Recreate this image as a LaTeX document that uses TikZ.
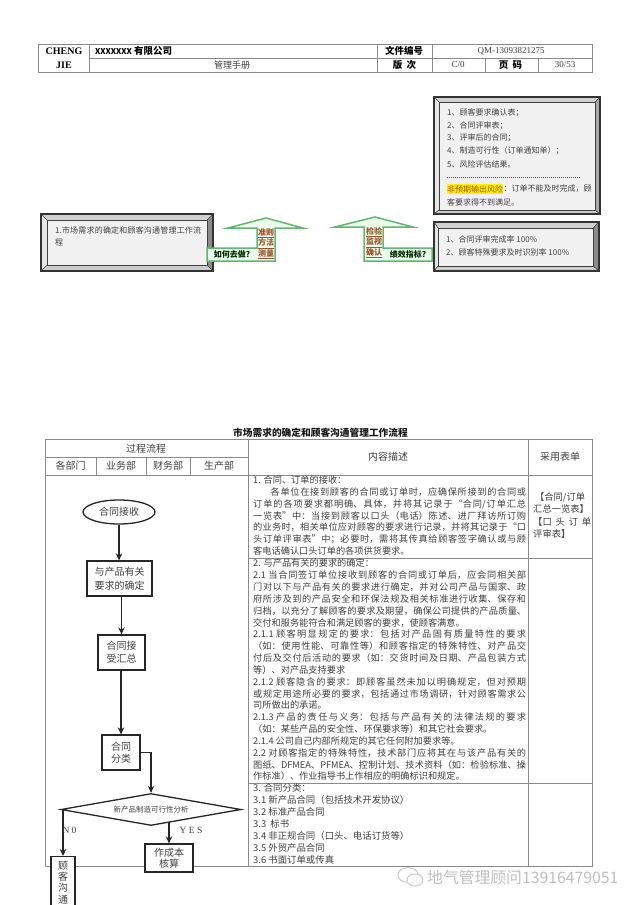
\documentclass[tikz,border=0pt]{standalone}
\usepackage{fontspec}
\setmainfont{Noto Sans CJK SC}
\setsansfont{Liberation Serif}
\newfontfamily\latinf{Liberation Serif}
\usetikzlibrary{arrows.meta,shapes.geometric,calc}
\XeTeXlinebreaklocale "zh"
\XeTeXlinebreakskip=0pt plus 3pt
\newcommand{\cma}{^^^^ff0c}
\newcommand{\cln}{^^^^ff1a}
\newcommand{\smc}{^^^^ff1b}
\newcommand{\lpr}{^^^^ff08}
\newcommand{\rpr}{^^^^ff09}
\definecolor{ink}{HTML}{404040}
\definecolor{grid}{HTML}{8A8A8A}
\definecolor{agreen}{HTML}{62B673}
\definecolor{abrown}{HTML}{A0522D}
\definecolor{face}{HTML}{F1F1F1}
\newcommand{\fs}[1]{\fontsize{#1}{#1}\selectfont}
\newcommand{\fsl}[2]{\fontsize{#1}{#2}\selectfont}
\newcommand{\bev}[9]{%
 \fill[white!82!black] (#1,#2)--(#3,#2)--(#7,#6)--(#5,#6)--cycle;
 \fill[white!90!black] (#1,#2)--(#5,#6)--(#5,#8)--(#1,#4)--cycle;
 \fill[#9] (#3,#2)--(#3,#4)--(#7,#8)--(#7,#6)--cycle;
 \fill[white!80!black] (#1,#4)--(#3,#4)--(#7,#8)--(#5,#8)--cycle;
 \fill[face] (#5,#6) rectangle (#7,#8);
 \draw[black!80,line width=1.1pt] (#1,#2) rectangle (#3,#4);
 \draw[black!75,line width=.8pt] (#5,#6) rectangle (#7,#8);
 \draw[black!75,line width=.6pt] (#1,#2)--(#5,#6) (#3,#2)--(#7,#6) (#1,#4)--(#5,#8) (#3,#4)--(#7,#8);
}
\tikzset{
 x=1pt,y=-1pt,
 gridline/.style={draw=grid,line width=.9pt},
 flowbox/.style={draw=black!85,line width=1.3pt,fill=white,align=center,inner sep=0pt,text=ink,font=\fs{10}},
 flowline/.style={draw=black!85,line width=1.3pt},
 flowarrow/.style={flowline,-{Stealth[length=7pt,width=6.5pt]}},
 celltext/.style={text=ink,font=\fs{10},inner sep=0pt},
 bodytext/.style={anchor=north west,inner sep=0pt,text=ink,align=justify},
 greenarrow/.style={draw=agreen,line width=1.5pt,fill=white!92!green,line join=miter},
 boxtext/.style={anchor=west,inner sep=0pt,text=ink,font=\fs{8}},
 brown/.style={text=abrown,inner sep=0pt,font=\bfseries\fs{8}},
 ask/.style={text=black!85!green,inner sep=0pt,font=\bfseries\fs{8}},
 headtext/.style={text=ink,inner sep=0pt,font=\fs{9}},
 hollow/.style={text=black,inner sep=0pt,font=\bfseries\fs{9.5}},
}
\begin{document}
\begin{tikzpicture}
\useasboundingbox (0,0) rectangle (640,905);
\fill[white] (0,0) rectangle (640,905);
% page header table
\draw[gridline] (38,44) rectangle (592,72) (89,44)--(89,72) (89,58)--(592,58)
  (377,44)--(377,72) (432,44)--(432,72) (485,58)--(485,72) (538,58)--(538,72);
\node[headtext,font=\latinf\bfseries\fs{10},text=black] (hA) at (64,51) {CHENG};
\node[headtext,font=\latinf\bfseries\fs{10},text=black] (hB) at (64,65) {JIE};
\node[hollow,anchor=west] (hC) at (95,51) {{\fs{8}XXXXXXX} 有限公司};
\node[headtext] (hD) at (232,65) {管理手册};
\node[hollow] (hE) at (404,51) {文件编号};
\node[headtext,font=\latinf\fs{9}] (hF) at (511,51) {QM-13093821275};
\node[hollow] (hG) at (404.5,65) {版\ \ 次};
\node[headtext,font=\latinf\fs{9}] (hH) at (458,65) {C/0};
\node[hollow] (hI) at (510.5,65) {页\ \ 码};
\node[headtext,font=\latinf\fs{9}] (hJ) at (565,65) {30/53};
% bevel boxes
\bev{434}{97}{600}{214}{439}{102}{595}{210}{white!65!black}
\bev{434}{222}{599}{271}{438}{228}{593}{266}{white!55!black}
\bev{41}{214}{213}{271}{47}{220}{207}{265}{white!55!black}
% box A text
\node[boxtext] (a1) at (447,113) {1、顾客要求确认表\smc};
\node[boxtext] (a2) at (447,126) {2、合同评审表\smc};
\node[boxtext] (a3) at (447,138) {3、评审后的合同\smc};
\node[boxtext] (a4) at (447,151) {4、制造可行性\lpr 订单通知单\rpr\smc};
\node[boxtext] (a5) at (447,164) {5、风险评估结果。};
\draw[black!70,line width=.8pt,dash pattern=on 1.2pt off .8pt] (447,177)--(581,177);
\node[boxtext,fill=yellow,text=abrown,inner ysep=1.5pt] (a6) at (447,189) {非预期输出风险};
\node[boxtext] (a7) at (a6.east) {\cln 订单不能及时完成\cma 顾};
\node[boxtext] (a8) at (447,202) {客要求得不到满足。};
% box B text
\node[boxtext] (b1) at (446,239) {1、合同评审完成率 100\%};
\node[boxtext] (b2) at (446,252) {2、顾客特殊要求及时识别率 100\%};
% left box text
\node[boxtext,anchor=north west,text width=147pt,align=left,font=\fsl{8}{11.5}] (c1) at (55,227) {1.市场需求的确定和顾客沟通管理工作流程};
% green arrows
\draw[greenarrow] (207,248)--(257,248)--(257,228)--(228,228)--(266,218)--(303,228)--(275,228)--(275,261)--(207,261)--cycle;
\draw[greenarrow] (432,248)--(383,248)--(383,227)--(413,227)--(375,217)--(335,227)--(364,227)--(364,261)--(432,261)--cycle;
\node[brown] (d1) at (266,233) {\underline{准则}};
\node[brown] (d2) at (266,243.5) {\underline{方法}};
\node[brown] (d3) at (266,254) {\underline{测量}};
\node[ask] (d4) at (232,254.5) {如何去做?};
\node[brown] (e1) at (374,232) {\underline{检验}};
\node[brown] (e2) at (374,242.5) {\underline{监视}};
\node[brown] (e3) at (374,253) {\underline{确认}};
\node[ask] (e4) at (408,254.5) {绩效指标?};
% title
\node[inner sep=0pt,font=\bfseries\fs{9.7},text=black!90] (title) at (320.5,433) {市场需求的确定和顾客沟通管理工作流程};
% main table
\draw[gridline] (45,439) rectangle (592,866) (248,439)--(248,866) (528,439)--(528,866)
 (45,457)--(248,457) (45,475)--(592,475) (96,457)--(96,475) (146,457)--(146,475) (190,457)--(190,475)
 (248,558)--(592,558) (248,783)--(592,783);
\node[celltext] (t1) at (146,449) {过程流程};
\node[celltext] (t2) at (70.5,466) {各部门};
\node[celltext] (t3) at (121,466) {业务部};
\node[celltext] (t4) at (168,466) {财务部};
\node[celltext] (t5) at (219,466) {生产部};
\node[celltext] (t6) at (388,457) {内容描述};
\node[celltext] (t7) at (560,457) {采用表单};
% body text
\node[bodytext,text width=273pt,font=\fsl{9.2}{11.75}] (r1) at (253,476) {%
1. 合同、订单的接收\cln\newline
\hspace*{1.9em}各单位在接到顾客的合同或订单时\cma 应确保所接到的合同或\linebreak[4]
订单的各项要求都明确、具体\cma 并将其记录于“合同/订单汇总\linebreak[4]
一览表”中\cln 当接到顾客以口头\lpr 电话\rpr 陈述、进厂拜访所订购\linebreak[4]
的业务时\cma 相关单位应对顾客的要求进行记录\cma 并将其记录于“口\linebreak[4]
头订单评审表”中\smc 必要时\cma 需将其传真给顾客签字确认或与顾\linebreak[4]
客电话确认口头订单的各项供货要求。};
\node[bodytext,text width=273pt,font=\fsl{9.2}{11.83}] (r2) at (253,559) {%
2. 与产品有关的要求的确定\cln\newline
2.1 当合同签订单位接收到顾客的合同或订单后\cma 应会同相关部\linebreak[4]
门对以下与产品有关的要求进行确定\cma 并对公司产品与国家、政\linebreak[4]
府所涉及到的产品安全和环保法规及相关标准进行收集、保存和\linebreak[4]
归档\cma 以充分了解顾客的要求及期望\cma 确保公司提供的产品质量、\linebreak[4]
交付和服务能符合和满足顾客的要求\cma 使顾客满意。\newline
2.1.1 顾客明显规定的要求\cln 包括对产品固有质量特性的要求\linebreak[4]
\lpr 如\cln 使用性能、可靠性等\rpr 和顾客指定的特殊特性、对产品交\linebreak[4]
付后及交付后活动的要求\lpr 如\cln 交货时间及日期、产品包装方式\linebreak[4]
等\rpr 、对产品支持要求\newline
2.1.2 顾客隐含的要求\cln 即顾客虽然未加以明确规定\cma 但对预期\linebreak[4]
或规定用途所必要的要求\cma 包括通过市场调研\cma 针对顾客需求公\linebreak[4]
司所做出的承诺。\newline
2.1.3 产品的责任与义务\cln 包括与产品有关的法律法规的要求\linebreak[4]
\lpr 如\cln 某些产品的安全性、环保要求等\rpr 和其它社会要求。\newline
2.1.4 公司自己内部所规定的其它任何附加要求等。\newline
2.2 对顾客指定的特殊特性\cma 技术部门应将其在与该产品有关的\linebreak[4]
图纸、DFMEA、PFMEA、控制计划、技术资料\lpr 如\cln 检验标准、操\linebreak[4]
作标准\rpr 、作业指导书上作相应的明确标识和规定。};
\node[bodytext,text width=273pt,font=\fsl{9.4}{12}] (r3) at (253,783) {%
3. 合同分类\cln\newline
3.1 新产品合同\lpr 包括技术开发协议\rpr\newline
3.2 标准产品合同\newline
3.3 \ 标书\newline
3.4 非正规合同\lpr 口头、电话订货等\rpr\newline
3.5 外贸产品合同\newline
3.6 书面订单或传真};
\node[bodytext,text width=58pt,font=\fsl{9.3}{12.3}] (r4) at (533,492.5) {%
\hspace*{.2em}【合同/订单\newline 汇总一览表】\newline 【口头订单\linebreak[4]评审表】};
% flowchart
\node[draw=black!85,line width=1.3pt,ellipse,minimum width=72pt,minimum height=24pt,inner sep=0pt,text=ink,font=\fs{10}] (s1) at (119,512) {合同接收};
\node[flowbox,minimum width=65pt,minimum height=35pt] (s2) at (119.5,578.5) {与产品有关\\[4pt]要求的确定};
\node[flowbox,minimum width=47pt,minimum height=35pt] (s3) at (121.5,652.5) {合同接\\[3pt]受汇总};
\node[flowbox,minimum width=38pt,minimum height=35pt] (s4) at (121,752.5) {合同\\[2.5pt]分类};
\node[draw=black!85,line width=1.3pt,diamond,aspect=5.5,minimum width=180pt,minimum height=32pt,inner sep=0pt,fill=white,text=ink,font=\fs{7.5}] (s5) at (151,809.5) {新产品制造可行性分析};
\node[flowbox,minimum width=48pt,minimum height=28pt] (s6) at (169,858) {作成本\\[1pt]核算};
\node[draw=black!85,line width=1.3pt,fill=white,minimum width=24pt,minimum height=52pt,anchor=north,inner sep=0pt,align=center,text=ink,font=\fs{10}] (s7) at (63,856) {顾\\[1.3pt]客\\[1.3pt]沟\\[1.3pt]通};
\draw[flowarrow] (s1.south)--(s1.south|-s2.north);
\draw[flowarrow] (s2.south-|s3.north)--(s3.north);
\draw[flowarrow] (s3.south-|s4.north)--(s4.north);
\draw[flowarrow] (s4.east)-|(s5.north);
\draw[flowarrow] (s5.west)--(s5.west-|s7.north)--(s7.north);
\coordinate (yesstart) at (169,822);
\draw[flowarrow] (yesstart)--(s6.north);
\node[celltext,font=\latinf\fs{9.5}] (n0) at (69.5,830) {N\ 0};
\node[celltext,font=\latinf\fs{9.5}] (yes) at (191,830) {Y\ E\ S};
% watermark
\begin{scope}[draw=black!22,line width=.9pt]
\draw (408,875) ellipse (10pt and 7.5pt);
\draw[fill=white] (415,880) ellipse (8pt and 6pt);
\end{scope}
\node[inner sep=0pt,anchor=west,text=black!25,font=\fs{15.8}] (wm) at (427,877) {地气管理顾问13916479051};
\end{tikzpicture}
\end{document}
